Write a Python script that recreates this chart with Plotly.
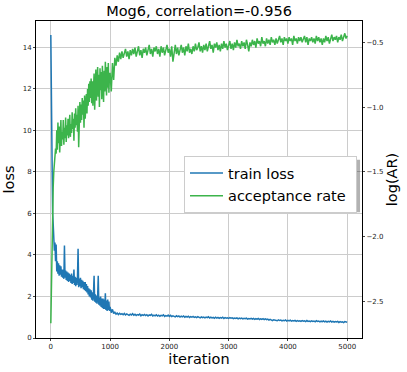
import plotly.graph_objects as go

# iteration index: every 10 steps up to 1000, every 20 steps after
iters_early = list(range(0, 1000, 10))
iters_late = list(range(1000, 5001, 20))
iterations = iters_early + iters_late

# train loss (left axis)
loss_early = [
    14.6, 11.0, 8.0, 6.0, 5.5, 4.6, 4.2, 4.6, 3.7, 4.5,
    3.2, 3.7, 3.1, 3.6, 3.0, 3.5, 3.05, 3.45, 2.95, 3.3,
    2.9, 3.3, 2.85, 4.45, 2.9, 3.25, 2.8, 3.2, 2.75, 3.15,
    2.7, 3.1, 2.75, 3.05, 2.65, 3.1, 2.6, 3.0, 2.65, 3.3,
    2.55, 2.95, 2.5, 2.9, 2.55, 2.95, 4.3, 2.45, 2.85, 2.5,
    2.9, 2.4, 2.8, 2.45, 2.75, 2.35, 2.7, 2.3, 2.7, 2.25,
    2.6, 2.2, 2.5, 2.1, 2.4, 2.0, 2.35, 1.95, 2.3, 1.85,
    2.2, 1.8, 2.15, 3.0, 1.75, 2.1, 1.7, 2.05, 1.65, 2.0,
    3.0, 1.6, 1.95, 1.55, 2.0, 1.5, 1.9, 1.45, 1.9, 1.4,
    1.85, 1.4, 2.15, 1.35, 1.8, 1.3, 1.85, 1.35, 1.75, 1.3,
]
loss_late = [
    1.50, 1.22, 1.38, 1.18, 1.24, 1.15, 1.20, 1.13, 1.19, 1.14,
    1.17, 1.12, 1.18, 1.11, 1.16, 1.13, 1.09, 1.15, 1.11, 1.17,
    1.10, 1.14, 1.08, 1.13, 1.10, 1.15, 1.07, 1.12, 1.09, 1.13,
    1.08, 1.12, 1.06, 1.11, 1.09, 1.14, 1.06, 1.10, 1.07, 1.12,
    1.06, 1.10, 1.05, 1.09, 1.07, 1.12, 1.04, 1.08, 1.05, 1.10,
    1.04, 1.09, 1.03, 1.07, 1.05, 1.02, 1.07, 1.03, 1.06, 1.01,
    1.05, 1.02, 1.06, 1.00, 1.04, 1.01, 1.05, 0.99, 1.03, 1.00,
    1.04, 0.99, 1.02, 0.98, 1.03, 1.00, 0.97, 1.02, 0.98, 1.01,
    0.97, 1.01, 0.98, 1.02, 0.96, 1.00, 0.97, 0.99, 0.95, 1.00,
    0.96, 0.99, 0.95, 0.98, 0.96, 1.00, 0.94, 0.98, 0.95, 0.97,
    0.94, 0.98, 0.95, 0.97, 0.93, 0.96, 0.94, 0.97, 0.92, 0.96,
    0.93, 0.96, 0.92, 0.95, 0.93, 0.96, 0.91, 0.94, 0.92, 0.95,
    0.91, 0.94, 0.90, 0.93, 0.91, 0.94, 0.89, 0.92, 0.90, 0.93,
    0.89, 0.92, 0.88, 0.91, 0.86, 0.90, 0.87, 0.84, 0.88, 0.85,
    0.86, 0.83, 0.87, 0.84, 0.86, 0.82, 0.85, 0.83, 0.87, 0.82,
    0.85, 0.82, 0.86, 0.81, 0.84, 0.82, 0.85, 0.80, 0.84, 0.81,
    0.83, 0.80, 0.84, 0.81, 0.83, 0.79, 0.84, 0.80, 0.82, 0.79,
    0.83, 0.80, 0.82, 0.78, 0.83, 0.80, 0.82, 0.78, 0.81, 0.79,
    0.82, 0.78, 0.81, 0.77, 0.80, 0.78, 0.82, 0.77, 0.80, 0.76,
    0.79, 0.77, 0.80, 0.75, 0.79, 0.76, 0.78, 0.74, 0.79, 0.76,
    0.76,
]
train_loss = loss_early + loss_late

# log acceptance rate (right axis)
ar_early = [
    -2.67, -2.35, -2.05, -1.85, -1.62, -1.50, -1.42, -1.38, -1.32, -1.36,
    -1.18, -1.33, -1.12, -1.28, -1.15, -1.35, -1.22, -1.10, -1.30, -1.19,
    -1.25, -1.10, -1.29, -1.16, -1.24, -1.08, -1.27, -1.14, -1.22, -1.09,
    -1.24, -1.12, -1.06, -1.23, -1.13, -1.20, -1.04, -1.17, -1.09, -1.26,
    -1.05, -1.16, -1.01, -1.14, -1.06, -1.19, -0.99, -1.31, -1.07, -0.96,
    -1.12, -0.98, -1.10, -0.93, -1.06, -0.95, -1.16, -0.91, -1.09, -0.98,
    -0.90, -1.05, -0.86, -0.99, -0.82, -0.96, -0.80, -0.93, -0.78, -0.97,
    -0.80, -0.99, -0.83, -0.74, -1.02, -0.79, -0.71, -0.95, -0.76, -0.69,
    -0.92, -0.75, -1.00, -0.70, -0.87, -0.73, -0.94, -0.68, -0.84, -0.96,
    -0.72, -0.88, -0.65, -0.80, -0.91, -0.69, -0.85, -0.66, -0.89, -0.74,
]
ar_late = [
    -0.74, -0.88, -0.66, -0.79, -0.62, -0.68, -0.60, -0.65, -0.58, -0.63,
    -0.57, -0.62, -0.59, -0.55, -0.61, -0.57, -0.63, -0.56, -0.60, -0.55,
    -0.59, -0.54, -0.61, -0.57, -0.53, -0.60, -0.56, -0.62, -0.55, -0.58,
    -0.54, -0.60, -0.56, -0.52, -0.59, -0.55, -0.61, -0.54, -0.57, -0.53,
    -0.59, -0.55, -0.61, -0.53, -0.58, -0.54, -0.60, -0.56, -0.52, -0.58,
    -0.55, -0.61, -0.53, -0.65, -0.56, -0.52, -0.59, -0.54, -0.60, -0.55,
    -0.52, -0.58, -0.54, -0.60, -0.53, -0.57, -0.51, -0.58, -0.55, -0.59,
    -0.53, -0.57, -0.51, -0.56, -0.54, -0.50, -0.57, -0.53, -0.58, -0.52,
    -0.56, -0.51, -0.57, -0.53, -0.49, -0.55, -0.52, -0.58, -0.51, -0.54,
    -0.50, -0.56, -0.52, -0.57, -0.51, -0.55, -0.49, -0.54, -0.51, -0.56,
    -0.52, -0.49, -0.55, -0.51, -0.56, -0.50, -0.54, -0.48, -0.53, -0.51,
    -0.55, -0.49, -0.53, -0.50, -0.55, -0.48, -0.52, -0.57, -0.50, -0.53,
    -0.48, -0.52, -0.49, -0.54, -0.47, -0.51, -0.49, -0.53, -0.46, -0.51,
    -0.49, -0.53, -0.47, -0.51, -0.48, -0.52, -0.46, -0.50, -0.48, -0.52,
    -0.47, -0.51, -0.48, -0.45, -0.50, -0.47, -0.52, -0.46, -0.49, -0.47,
    -0.51, -0.46, -0.49, -0.47, -0.52, -0.45, -0.49, -0.47, -0.51, -0.46,
    -0.49, -0.46, -0.50, -0.47, -0.45, -0.50, -0.46, -0.52, -0.47, -0.49,
    -0.46, -0.50, -0.47, -0.51, -0.45, -0.49, -0.46, -0.50, -0.47, -0.52,
    -0.47, -0.50, -0.45, -0.49, -0.46, -0.51, -0.47, -0.44, -0.49, -0.46,
    -0.48, -0.45, -0.50, -0.46, -0.48, -0.44, -0.49, -0.46, -0.43, -0.47,
    -0.45,
]
log_ar = ar_early + ar_late

x_ticks = [0, 1000, 2000, 3000, 4000, 5000]
loss_ticks = [0, 2, 4, 6, 8, 10, 12, 14]
ar_ticks = [-2.5, -2.0, -1.5, -1.0, -0.5]
ar_labels = ["\u22122.5", "\u22122.0", "\u22121.5", "\u22121.0", "\u22120.5"]

FONT = "DejaVu Sans"
tick_font = dict(family=FONT, size=7, color="#222")

fig = go.Figure()
fig.add_trace(go.Scatter(x=iterations, y=train_loss, mode="lines", name="train loss",
                         legendgroup="a", line=dict(color="#1f77b4", width=1.5)))
fig.add_trace(go.Scatter(x=iterations, y=log_ar, mode="lines", name="acceptance rate\u00a0",
                         legendgroup="b", yaxis="y2", line=dict(color="#3cb44b", width=1.5)))

# legend shadow (drawn under the legend box, offset a few px)
fig.add_shape(type="rect", xref="paper", yref="paper", x0=0.463, x1=0.994, y0=0.397, y1=0.562,
              fillcolor="rgba(0,0,0,0.3)", line=dict(width=0), layer="above")

fig.update_layout(
    width=407, height=372,
    margin=dict(l=36, r=45, t=21, b=34, autoexpand=False),
    paper_bgcolor="white", plot_bgcolor="white",
    font=dict(family=FONT, color="black"),
    title=dict(text="Mog6, correlation=-0.956", x=0.489, xanchor="center", y=0.97, yanchor="middle",
               font=dict(family=FONT, size=14.5, color="black")),
    showlegend=True,
    legend=dict(x=0.454, y=0.574, xanchor="left", yanchor="top",
                bgcolor="white", bordercolor="#cccccc", borderwidth=1,
                font=dict(family=FONT, size=14.5, color="black"),
                tracegroupgap=1, itemwidth=33),
    xaxis=dict(range=[-250, 5250], tickvals=x_ticks, ticks="outside", ticklen=2,
               tickfont=tick_font, showgrid=True, gridcolor="#cccccc", gridwidth=1,
               showline=True, linecolor="black", linewidth=1, mirror=True, zeroline=False,
               automargin=False,
               title=dict(text="iteration", font=dict(family=FONT, size=14.5), standoff=2)),
    yaxis=dict(range=[0, 15.27], tickvals=loss_ticks, ticks="outside", ticklen=2,
               tickfont=tick_font, showgrid=True, gridcolor="#cccccc", gridwidth=1,
               showline=True, linecolor="black", linewidth=1, mirror=True, zeroline=False,
               automargin=False,
               title=dict(text="loss", font=dict(family=FONT, size=14.5), standoff=4)),
    yaxis2=dict(range=[-2.784, -0.335], overlaying="y", side="right",
                tickvals=ar_ticks, ticktext=ar_labels, ticks="outside", ticklen=2,
                tickfont=tick_font, showgrid=False, zeroline=False, automargin=False,
                title=dict(text="log(AR)", font=dict(family=FONT, size=14.5), standoff=4)),
)

fig.write_html("out.html", config={"displayModeBar": False},
               post_script="document.body.style.margin='0';document.body.style.overflow='hidden';")
